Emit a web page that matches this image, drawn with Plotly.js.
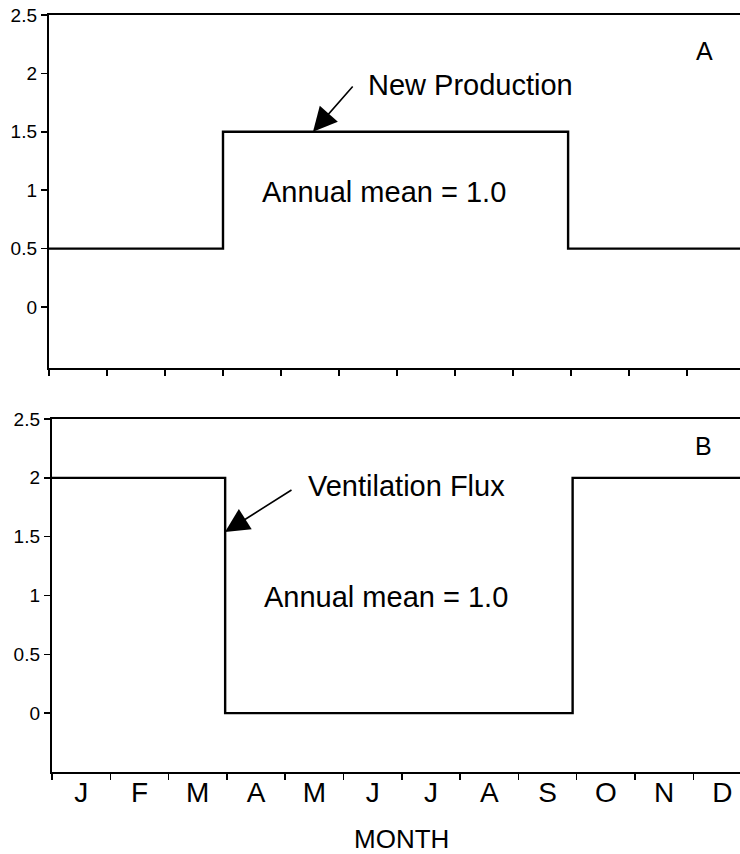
<!DOCTYPE html>
<html>
<head>
<meta charset="utf-8">
<script src="https://cdn.plot.ly/plotly-3.0.1.min.js"></script>
<style>html,body{margin:0;padding:0;background:#fff;}#chart{width:740px;height:854px;}</style>
</head>
<body>
<div id="chart"></div>
<script>
// ---- data ----
var monthLabels = ['J','F','M','A','M','J','J','A','S','O','N','D'];
var monthCenters = [0.5,1.5,2.5,3.5,4.5,5.5,6.5,7.5,8.5,9.5,10.5,11.5];
var yTickVals = [0, 0.5, 1, 1.5, 2, 2.5];
var yTickText = ['0', '0.5', '1', '1.5', '2', '2.5'];

// Panel A: New Production (step changes at month boundaries)
var prodX = [0, 3, 8.95, 12];
var prodY = [0.5, 1.5, 0.5, 0.5];

// Panel B: Ventilation Flux
var ventX = [0, 2.97, 8.93, 12];
var ventY = [2, 0, 2, 2];

var font = 'Liberation Sans, Arial, Helvetica, sans-serif';

var traces = [
  {x: prodX, y: prodY, xaxis: 'x', yaxis: 'y', mode: 'lines',
   line: {shape: 'hv', color: '#000', width: 2.4}, hoverinfo: 'skip'},
  {x: ventX, y: ventY, xaxis: 'x2', yaxis: 'y2', mode: 'lines',
   line: {shape: 'hv', color: '#000', width: 2.4}, hoverinfo: 'skip'}
];

function xAxis(domainStart, rangeEnd, showLabels, anchor) {
  return {
    domain: [domainStart, 1], range: [0, rangeEnd], anchor: anchor,
    showgrid: false, zeroline: false,
    showline: true, linecolor: '#000', linewidth: 2.2, mirror: true,
    tickmode: 'array', tickvals: monthCenters, ticktext: monthLabels,
    ticks: '', showticklabels: showLabels,
    ticklabelstandoff: -6,
    tickfont: {family: font, size: 28, color: '#000'},
    minor: {ticks: 'outside', tick0: 0, dtick: 1, ticklen: 6, tickwidth: 1.5, tickcolor: '#000'},
    fixedrange: true
  };
}
function yAxis(domain, rangeStart, anchor) {
  return {
    domain: domain, range: [rangeStart, 2.5], anchor: anchor,
    showgrid: false, zeroline: false,
    showline: true, linecolor: '#000', linewidth: 2.2,
    tickmode: 'array', tickvals: yTickVals, ticktext: yTickText,
    ticks: 'outside', ticklen: 6, tickwidth: 1.5, tickcolor: '#000',
    tickfont: {family: font, size: 19, color: '#000'},
    fixedrange: true
  };
}

var H = 854, W = 740;
var layout = {
  width: W, height: H,
  margin: {l: 0, r: 0, t: 0, b: 0},
  paper_bgcolor: '#fff', plot_bgcolor: '#fff',
  showlegend: false,
  xaxis: xAxis(49 / W, (W - 49) / 58, false, 'y'),
  yaxis: yAxis([(H - 368) / H, (H - 15) / H], -0.522, 'x'),
  xaxis2: xAxis(52 / W, (W - 52) / 58.3, true, 'y2'),
  yaxis2: yAxis([(H - 772) / H, (H - 419) / H], -0.5, 'x2'),
  annotations: [
    // panel letters
    {xref: 'paper', yref: 'paper', x: 704 / W, y: (H - 51) / H, text: 'A', showarrow: false,
     xanchor: 'center', yanchor: 'middle', font: {family: font, size: 25, color: '#000'}},
    {xref: 'paper', yref: 'paper', x: 703 / W, y: (H - 446) / H, text: 'B', showarrow: false,
     xanchor: 'center', yanchor: 'middle', font: {family: font, size: 25, color: '#000'}},
    // panel A labels
    {xref: 'x', yref: 'y', x: (366 - 49) / 58, y: (307 - 85) / 116.8, text: 'New Production', showarrow: false,
     xanchor: 'left', yanchor: 'middle', font: {family: font, size: 29, color: '#000'}},
    {xref: 'x', yref: 'y', x: (260 - 49) / 58, y: (307 - 192) / 116.8, text: 'Annual mean = 1.0', showarrow: false,
     xanchor: 'left', yanchor: 'middle', font: {family: font, size: 29, color: '#000'}},
    {xref: 'x', yref: 'y', axref: 'x', ayref: 'y',
     x: (313 - 49) / 58, y: 1.5, ax: (354 - 49) / 58, ay: (307 - 85) / 116.8,
     text: '', showarrow: true, arrowhead: 2, arrowsize: 3, arrowwidth: 1.6, arrowcolor: '#000', standoff: 0},
    // panel B labels
    {xref: 'x2', yref: 'y2', x: (306 - 52) / 58.3, y: (713 - 486) / 117.6, text: 'Ventilation Flux', showarrow: false,
     xanchor: 'left', yanchor: 'middle', font: {family: font, size: 29, color: '#000'}},
    {xref: 'x2', yref: 'y2', x: (262 - 52) / 58.3, y: (713 - 597) / 117.6, text: 'Annual mean = 1.0', showarrow: false,
     xanchor: 'left', yanchor: 'middle', font: {family: font, size: 29, color: '#000'}},
    {xref: 'x2', yref: 'y2', axref: 'x2', ayref: 'y2',
     x: (225 - 52) / 58.3, y: (713 - 532) / 117.6, ax: (293 - 52) / 58.3, ay: (713 - 489) / 117.6,
     text: '', showarrow: true, arrowhead: 2, arrowsize: 3, arrowwidth: 1.6, arrowcolor: '#000', standoff: 0},
    // x-axis title
    {xref: 'paper', yref: 'paper', x: 401 / W, y: (H - 839) / H, text: 'MONTH', showarrow: false,
     xanchor: 'center', yanchor: 'middle', font: {family: font, size: 26, color: '#000'}}
  ]
};

Plotly.newPlot('chart', traces, layout, {displayModeBar: false, staticPlot: true});
</script>
</body>
</html>
